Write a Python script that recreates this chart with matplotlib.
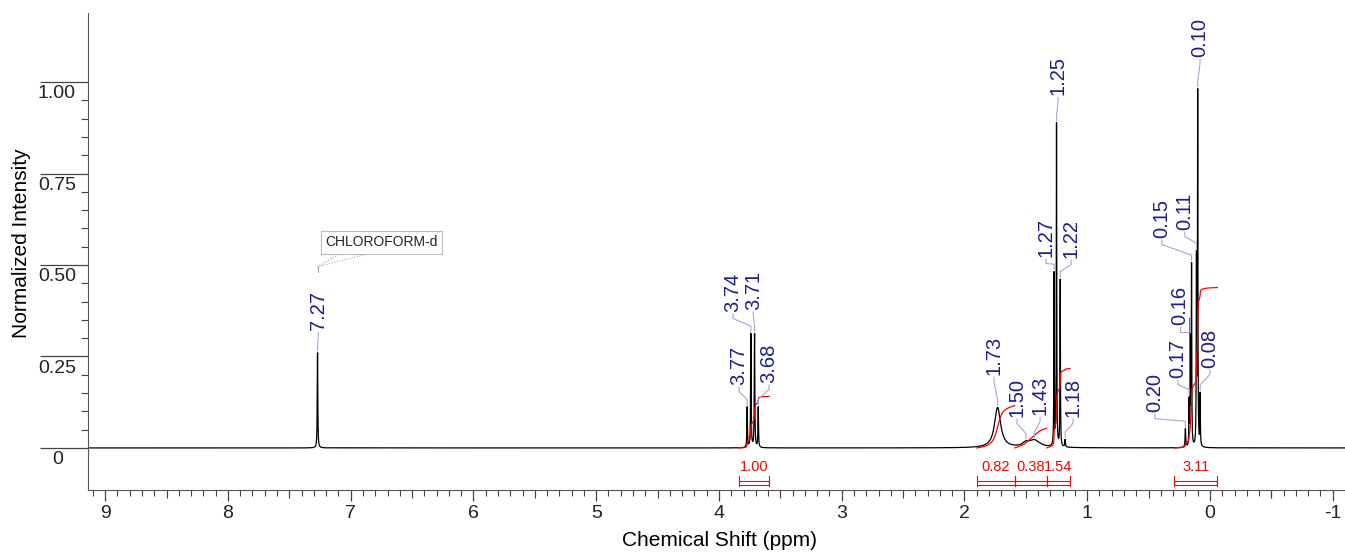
import numpy as np
import matplotlib.pyplot as plt
from matplotlib.ticker import MultipleLocator, FixedLocator

plt.rcParams['font.family'] = ['Liberation Sans', 'DejaVu Sans']
plt.rcParams['axes.unicode_minus'] = False

# peak list
peak_ppm = [7.27, 3.77, 3.74, 3.71, 3.68, 1.73, 1.50, 1.43, 1.27, 1.25, 1.22, 1.18,
            0.20, 0.17, 0.16, 0.15, 0.11, 0.10, 0.08]
peak_height = [0.26, 0.11, 0.31, 0.31, 0.11, 0.11, 0.010, 0.020, 0.47, 0.88, 0.455, 0.02,
               0.05, 0.12, 0.33, 0.49, 0.50, 0.96, 0.14]
peak_hwhm = [0.0025, 0.0025, 0.0025, 0.0025, 0.0025, 0.030, 0.030, 0.055, 0.002, 0.002, 0.002, 0.003,
             0.003, 0.002, 0.002, 0.002, 0.002, 0.002, 0.002]
peak_label = ['7.27', '3.77', '3.74', '3.71', '3.68', '1.73', '1.50', '1.43', '1.27', '1.25', '1.22', '1.18',
              '0.20', '0.17', '0.16', '0.15', '0.11', '0.10', '0.08']

# integration regions
int_from = [3.84, 1.90, 1.59, 1.33, 0.29]
int_to = [3.59, 1.59, 1.33, 1.14, -0.06]
int_value = [1.00, 0.82, 0.38, 1.54, 3.11]
int_label = ['1.00', '0.82', '0.38', '1.54', '3.11']

solvent_label = 'CHLOROFORM-d'

x_ticks = [-1, 0, 1, 2, 3, 4, 5, 6, 7, 8, 9]
y_ticks = [0, 0.25, 0.50, 0.75, 1.00]
y_tick_labels = ['0', '0.25', '0.50', '0.75', '1.00']

# layout: where each rotated shift label sits (ppm of centre, bottom of text)
label_x = [7.264, 3.836, 3.885, 3.72, 3.591, 1.759, 1.572, 1.384, 1.336, 1.238, 1.132, 1.116,
           0.448, 0.261, 0.244, 0.391, 0.204, 0.081, 0.000]
label_y = [0.322, 0.172, 0.372, 0.378, 0.178, 0.199, 0.085, 0.090, 0.522, 0.964, 0.519, 0.085,
           0.098, 0.191, 0.336, 0.574, 0.596, 1.068, 0.219]

int_scale = 0.141
blue = '#1e1e8c'
lead = '#a3a6d6'

# build the spectrum from the peak list
ppm = np.arange(-1.2, 9.3, 0.0005)
spec = np.zeros_like(ppm)
for p, h, w in zip(peak_ppm, peak_height, peak_hwhm):
    spec += h * w**2 / ((ppm - p)**2 + w**2)

fig = plt.figure(figsize=(13.45, 5.53), dpi=100)
ax = fig.add_axes([88 / 1345, 1 - 490 / 553, 1 - 88 / 1345, (490 - 13) / 553])
ax.plot(ppm, spec, color='black', lw=0.9)
ax.set_xlim(9.14, -1.10)
ax.set_ylim(-0.115, 1.189)

# integral curves and brackets
for a, b, v, s in zip(int_from, int_to, int_value, int_label):
    m = (ppm <= a) & (ppm >= b)
    xs = ppm[m][::-1]
    cs = np.cumsum(spec[m][::-1])
    cs = cs / cs[-1] * v * int_scale
    ax.plot(xs, cs, color='red', lw=0.9)
    ax.plot([a, b], [-0.090, -0.090], color='red', lw=0.8)
    ax.plot([a, b], [-0.100, -0.100], color='red', lw=0.8)
    ax.plot([a, a], [-0.077, -0.104], color='red', lw=0.8)
    ax.plot([b, b], [-0.077, -0.104], color='red', lw=0.8)
    ax.text((a + b) / 2, -0.052, s, color='red', fontsize=10.5, ha='center', va='center')

# shift labels with leader lines
for p, s, lx, ly in zip(peak_ppm, peak_label, label_x, label_y):
    top = np.interp(p, ppm, spec)
    yb = ly - 0.018
    yc = min(top + 0.02, yb)
    ax.plot([lx, lx, p, p], [ly - 0.006, yb, yc, top + 0.006], color=lead, lw=0.8)
    ax.text(lx, ly, s, rotation=90, ha='center', va='bottom', fontsize=14.5, color=blue)

# solvent tag
ax.text(6.75, 0.562, solvent_label, fontsize=10, ha='center', va='center', color='#222222',
        bbox=dict(boxstyle='square,pad=0.3', fc='white', ec='#bbbbbb', lw=0.8))
ax.plot([7.085, 7.27, 6.84], [0.532, 0.495, 0.532], color='#999999', lw=0.7, ls=':')
ax.plot([7.27, 7.27], [0.495, 0.481], color='#999999', lw=0.7)

# axes styling
for sp in ['top', 'right']:
    ax.spines[sp].set_visible(False)
for sp in ['left', 'bottom']:
    ax.spines[sp].set_color('#555555')

ax.set_yticks(y_ticks)
ax.set_yticklabels([])
ax.yaxis.set_minor_locator(FixedLocator([0.05 * i for i in range(1, 20) if i % 5]))
ax.tick_params(axis='y', which='major', length=34.5, width=0.9, color='#444444')
ax.tick_params(axis='y', which='minor', length=5, width=0.8, color='#444444')
for v, s in zip(y_ticks, y_tick_labels):
    xo = -0.0286 if s == '0' else -0.0398
    ax.text(xo, v - 0.009, s, transform=ax.get_yaxis_transform(), ha='left', va='top',
            fontsize=14, color='#222222')

ax.set_xticks(x_ticks)
ax.set_xticklabels([str(t) for t in x_ticks])
ax.xaxis.set_minor_locator(MultipleLocator(0.1))
ax.tick_params(axis='x', which='major', length=8, width=0.9, color='#444444', labelsize=14,
               pad=3, labelcolor='#222222')
ax.tick_params(axis='x', which='minor', length=4.3, width=0.8, color='#444444')

sec = ax.secondary_xaxis('bottom')
sec.set_xticks([t + 0.5 for t in x_ticks[:-1]] + [-0.5])
sec.tick_params(length=5.8, width=0.8, color='#444444', labelbottom=False)
sec.spines['bottom'].set_visible(False)

fig.text(720 / 1345, 1 - 540 / 553, 'Chemical Shift (ppm)', ha='center', va='center', fontsize=15)
fig.text(22 / 1345, 1 - 243 / 553, 'Normalized Intensity', ha='center', va='center',
         rotation=90, fontsize=15)

fig.savefig('out.png', dpi=100)
